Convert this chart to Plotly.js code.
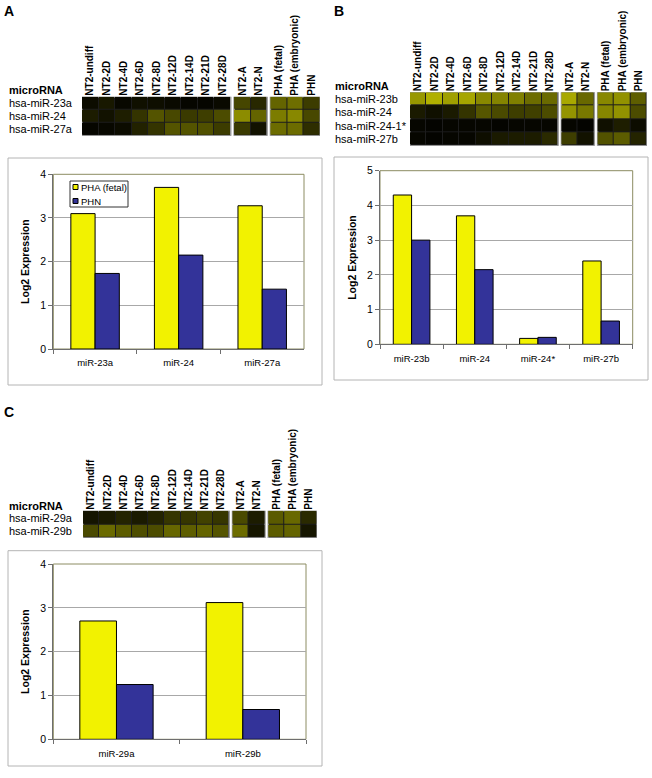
<!DOCTYPE html>
<html>
<head>
<meta charset="utf-8">
<script src="https://cdn.plot.ly/plotly-3.0.1.min.js"></script>
<style>html,body{margin:0;padding:0;background:#fff;}#chart{width:652px;height:778px;}</style>
</head>
<body>
<div id="chart"></div>
<script>
// ---------- DATA ----------
const columnLabels = ['NT2-undiff','NT2-2D','NT2-4D','NT2-6D','NT2-8D','NT2-12D','NT2-14D','NT2-21D','NT2-28D','NT2-A','NT2-N','PHA (fetal)','PHA (embryonic)','PHN'];
const columnGroups = [9, 2, 3];

const rowsA = ['hsa-miR-23a','hsa-miR-24','hsa-miR-27a'];
const heatA = [
  [0.06,0.12,0.04,0.08,0.07,0.05,0.03,0.03,0.05, 0.35,0.20, 0.50,0.55,0.30],
  [0.14,0.09,0.15,0.26,0.42,0.36,0.29,0.31,0.38, 0.70,0.50, 0.62,0.68,0.36],
  [0.03,0.04,0.06,0.17,0.26,0.42,0.42,0.40,0.30, 0.29,0.09, 0.54,0.54,0.23]
];
const rowsB = ['hsa-miR-23b','hsa-miR-24','hsa-miR-24-1*','hsa-miR-27b'];
const heatB = [
  [0.76,0.88,0.80,0.83,0.68,0.66,0.64,0.54,0.53, 0.84,0.52, 0.68,0.73,0.47],
  [0.13,0.08,0.13,0.26,0.43,0.37,0.31,0.32,0.38, 0.74,0.60, 0.67,0.73,0.38],
  [0.03,0.02,0.03,0.03,0.03,0.02,0.03,0.03,0.03, 0.03,0.02, 0.08,0.15,0.06],
  [0.03,0.02,0.03,0.03,0.07,0.13,0.14,0.14,0.21, 0.31,0.09, 0.41,0.46,0.18]
];
const rowsC = ['hsa-miR-29a','hsa-miR-29b'];
const heatC = [
  [0.10,0.13,0.18,0.13,0.18,0.27,0.27,0.33,0.27, 0.37,0.14, 0.45,0.52,0.21],
  [0.37,0.53,0.46,0.39,0.38,0.51,0.47,0.50,0.42, 0.54,0.11, 0.46,0.50,0.11]
];

const seriesNames = ['PHA (fetal)','PHN'];
const catsA = ['miR-23a','miR-24','miR-27a'];
const phaFetalA = [3.1, 3.7, 3.28];
const phnA = [1.73, 2.15, 1.37];
const catsB = ['miR-23b','miR-24','miR-24*','miR-27b'];
const phaFetalB = [4.3, 3.7, 0.17, 2.4];
const phnB = [3.0, 2.15, 0.2, 0.67];
const catsC = ['miR-29a','miR-29b'];
const phaFetalC = [2.7, 3.12];
const phnC = [1.25, 0.68];

// ---------- STYLE / LAYOUT HELPERS ----------
const W = 652, H = 778;
const FONT = 'Liberation Sans, Arial, sans-serif';
const COLORS = ['#f2f200', '#333399'];
const GAP = 0.2;
const dx = (a, b) => [a / W, b / W];
const dy = (top, bottom) => [1 - bottom / H, 1 - top / H];
const px = v => v / W;
const py = v => 1 - v / H;

// group edges
const groupInfo = [];
{
  let s = 0, c = 0;
  columnGroups.forEach(n => {
    const edges = [];
    for (let i = 0; i <= n; i++) edges.push(s + i);
    groupInfo.push({start: s, end: s + n, cols: [c, c + n], edges});
    s += n + GAP; c += n;
  });
}
const xTotal = groupInfo[groupInfo.length - 1].end;
const colCenters = [];
groupInfo.forEach(g => { for (let i = 0; i < g.edges.length - 1; i++) colCenters.push(g.edges[i] + 0.5); });

const traces = [];
const shapes = [];
const annotations = [];
const layout = {
  width: W, height: H,
  margin: {l: 0, r: 0, t: 0, b: 0},
  paper_bgcolor: '#fff', plot_bgcolor: 'rgba(0,0,0,0)',
  showlegend: false,
  barmode: 'group', bargap: 0.42, bargroupgap: 0,
  font: {family: FONT, color: '#000'}
};

function addHeatmap(n, rows, z, xd, yd, labelX, microY) {
  const xa = 'x' + n, ya = 'y' + n;
  const xk = 'xaxis' + n, yk = 'yaxis' + n;
  groupInfo.forEach(g => {
    traces.push({
      type: 'heatmap', xaxis: xa, yaxis: ya,
      x: g.edges, y: rows.map((_, i) => i).concat([rows.length]),
      z: z.map(r => r.slice(g.cols[0], g.cols[1])),
      zmin: 0, zmax: 1,
      colorscale: [[0, '#000000'], [1, '#c8c800']],
      showscale: false, xgap: 1, ygap: 1, hoverinfo: 'skip'
    });
    shapes.push({type: 'rect', xref: xa, yref: ya, x0: g.start, x1: g.end, y0: 0, y1: rows.length,
      fillcolor: '#1c1c1c', line: {color: '#9a9a9a', width: 1.5}, layer: 'below'});
  });
  layout[xk] = {domain: xd, range: [0, xTotal], side: 'top', showgrid: false, zeroline: false, showline: false,
    ticks: '', tickmode: 'array', tickvals: colCenters, ticktext: columnLabels, tickangle: -90,
    tickfont: {family: FONT, size: 10, weight: 'bold', color: '#000'}, anchor: ya, fixedrange: true};
  layout[yk] = {domain: yd, range: [rows.length, 0], showgrid: false, zeroline: false, showline: false,
    showticklabels: false, ticks: '', anchor: xa, fixedrange: true};
  rows.forEach((r, i) => annotations.push({xref: 'paper', yref: ya, x: px(labelX), y: i + 0.5, xanchor: 'left', yanchor: 'middle',
    text: r, showarrow: false, borderpad: 0, borderwidth: 0, font: {family: FONT, size: 11, color: '#000'}}));
  annotations.push({xref: 'paper', yref: 'paper', x: px(labelX), y: py(microY), xanchor: 'left', yanchor: 'middle',
    text: 'microRNA', showarrow: false, borderpad: 0, borderwidth: 0, font: {family: FONT, size: 11, weight: 'bold', color: '#000'}});
}

function addBars(n, cats, v1, v2, xd, yd, ymax, box) {
  const xa = 'x' + n, ya = 'y' + n;
  [v1, v2].forEach((vals, i) => traces.push({
    type: 'bar', xaxis: xa, yaxis: ya, x: cats, y: vals, name: seriesNames[i],
    marker: {color: COLORS[i], line: {color: '#000', width: 1}}, hoverinfo: 'skip'
  }));
  layout['xaxis' + n] = {domain: xd, anchor: ya, type: 'category', showgrid: false, zeroline: false,
    showline: true, linecolor: '#6e6e6e', linewidth: 1, ticks: 'outside', tickson: 'boundaries', ticklen: 4,
    tickcolor: '#6e6e6e', ticklabelstandoff: 5, tickfont: {family: FONT, size: 9.5, color: '#000'}, fixedrange: true};
  layout['yaxis' + n] = {domain: yd, anchor: xa, range: [0, ymax], dtick: 1, showgrid: true, gridcolor: '#a8a8a8',
    gridwidth: 1, zeroline: false, showline: true, linecolor: '#6e6e6e', linewidth: 1, ticks: 'outside', ticklen: 4,
    tickcolor: '#6e6e6e', tickfont: {family: FONT, size: 10.5, color: '#000'},
    title: {text: 'Log2 Expression', font: {family: FONT, size: 10.5, weight: 'bold', color: '#000'}, standoff: 8},
    fixedrange: true};
  shapes.push({type: 'rect', xref: xa + ' domain', yref: ya + ' domain', x0: 0, x1: 1, y0: 0, y1: 1,
    line: {color: '#8c8c62', width: 1}, layer: 'below'});
  shapes.push({type: 'rect', xref: 'paper', yref: 'paper', x0: px(box[0]), x1: px(box[1]), y0: py(box[3]), y1: py(box[2]),
    line: {color: '#b4b4b4', width: 1}, layer: 'below'});
}

// Panel A
addHeatmap(1, rowsA, heatA, dx(82, 320), dy(96.7, 135.7), 9, 89.5);
addBars(2, catsA, phaFetalA, phnA, dx(53.3, 304), dy(174.3, 349), 4, [8, 322, 158, 385]);
// Panel B
addHeatmap(3, rowsB, heatB, dx(410, 647), dy(92.3, 145.7), 335, 85.5);
addBars(4, catsB, phaFetalB, phnB, dx(380, 632.7), dy(170.7, 344.3), 5, [334, 648, 157, 380]);
// Panel C
addHeatmap(5, rowsC, heatC, dx(83, 317), dy(510.7, 538), 9, 505.5);
addBars(6, catsC, phaFetalC, phnC, dx(53.3, 306), dy(564, 739.3), 4, [8, 322, 550.7, 766]);

// Panel letters
[['A', 3, 11], ['B', 333, 11], ['C', 3, 412]].forEach(([t, x, y]) => annotations.push({
  xref: 'paper', yref: 'paper', x: px(x), y: py(y), xanchor: 'left', yanchor: 'middle', text: t, showarrow: false,
  borderpad: 0, font: {family: FONT, size: 14, weight: 'bold', color: '#000'}}));

// Legend for panel A (manual, Excel-style compact)
shapes.push({type: 'rect', xref: 'paper', yref: 'paper', x0: px(70), x1: px(128), y0: py(207), y1: py(181),
  fillcolor: '#fff', line: {color: '#333', width: 1}, layer: 'above'});
[187, 201].forEach((cy, i) => {
  shapes.push({type: 'rect', xref: 'paper', yref: 'paper', x0: px(73), x1: px(78), y0: py(cy + 2.5), y1: py(cy - 2.5),
    fillcolor: COLORS[i], line: {color: '#000', width: 1}, layer: 'above'});
  annotations.push({xref: 'paper', yref: 'paper', x: px(79.5), y: py(cy), xanchor: 'left', yanchor: 'middle',
    text: seriesNames[i], showarrow: false, borderpad: 0, font: {family: FONT, size: 9.5, color: '#000'}});
});

layout.shapes = shapes;
layout.annotations = annotations;
Plotly.newPlot('chart', traces, layout, {staticPlot: true, displayModeBar: false});
</script>
</body>
</html>
